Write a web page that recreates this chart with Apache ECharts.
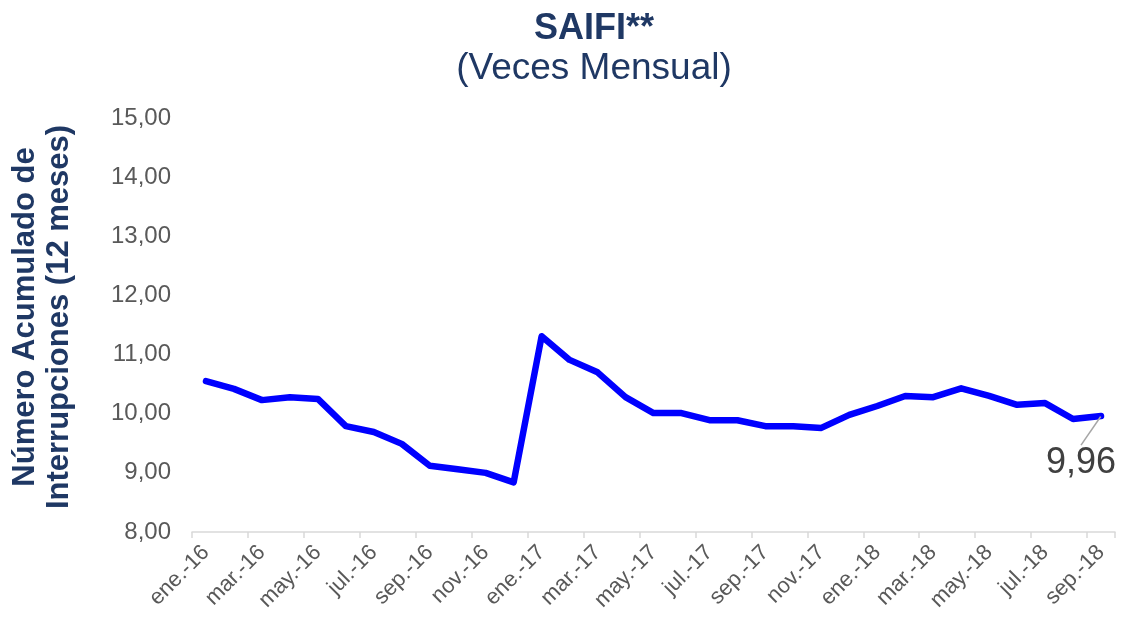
<!DOCTYPE html>
<html>
<head>
<meta charset="utf-8">
<script src="https://cdn.jsdelivr.net/npm/echarts@6/dist/echarts.min.js"></script>
<style>
html,body{margin:0;padding:0;background:#fff;}
#chart{width:1122px;height:621px;}
</style>
</head>
<body>
<div id="chart"></div>
<script>
const months = ['ene.','feb.','mar.','abr.','may.','jun.','jul.','ago.','sep.','oct.','nov.','dic.'];
const categories = [];
['16','17','18'].forEach(function(y){ months.forEach(function(m){ categories.push(m + '-' + y); }); });
categories.length = 33; // ene.-16 .. sep.-18

const saifi = [10.55, 10.42, 10.23, 10.28, 10.25, 9.79, 9.69, 9.49, 9.12, 9.06, 9.00, 8.84,
               11.31, 10.91, 10.70, 10.28, 10.01, 10.01, 9.89, 9.89, 9.79, 9.79, 9.76, 9.98,
               10.13, 10.30, 10.28, 10.43, 10.30, 10.15, 10.18, 9.91, 9.96];

const titleText = 'SAIFI**';
const subtitleText = '(Veces Mensual)';
const yName = 'Número Acumulado de\nInterrupciones (12 meses)';

const fmt = function(v){ return Number(v).toFixed(2).replace('.', ','); };

const chart = echarts.init(document.getElementById('chart'));
const lastIdx = saifi.length - 1;

chart.setOption({
  animation: false,
  textStyle: { fontFamily: 'Liberation Sans, Arial, sans-serif' },
  title: {
    text: titleText,
    subtext: subtitleText,
    left: 589,
    textAlign: 'center',
    top: 6,
    itemGap: 3,
    textStyle: { fontSize: 36, fontWeight: 'bold', color: '#1F3864', fontFamily: 'Liberation Sans' },
    subtextStyle: { fontSize: 37, color: '#1F3864', fontFamily: 'Liberation Sans' }
  },
  grid: { left: 190, right: 7, top: 118, bottom: 89 },
  xAxis: {
    type: 'category',
    data: categories,
    boundaryGap: true,
    axisLine: { lineStyle: { color: '#d9d9d9', width: 1.5 } },
    axisTick: { show: true, interval: 1, length: 6, lineStyle: { color: '#d9d9d9', width: 1.5 } },
    axisLabel: { interval: 1, rotate: 45, color: '#595959', fontSize: 22, margin: 17, fontFamily: 'Liberation Sans' }
  },
  yAxis: {
    type: 'value',
    min: 8, max: 15, interval: 1,
    name: yName,
    nameLocation: 'middle',
    nameRotate: 90,
    nameGap: 116,
    nameTextStyle: { fontSize: 31, fontWeight: 'bold', color: '#1F3864', lineHeight: 34,
                     padding: [0, 0, 0, 16], fontFamily: 'Liberation Sans' },
    axisLine: { show: false },
    axisTick: { show: false },
    splitLine: { show: false },
    axisLabel: { color: '#595959', fontSize: 24, margin: 21, formatter: fmt, fontFamily: 'Liberation Sans' }
  },
  series: [{
    type: 'line',
    data: saifi.map(function(v, i){
      if (i === lastIdx) {
        return {
          value: v,
          label: { show: true, position: 'inside', formatter: function(p){ return fmt(p.value); },
                   fontSize: 36, color: '#404040', fontFamily: 'Liberation Sans' },
          labelLine: { show: true, lineStyle: { color: '#a6a6a6', width: 1.5 } }
        };
      }
      return v;
    }),
    showSymbol: true,
    symbol: 'circle',
    symbolSize: 1,
    lineStyle: { color: '#0000FF', width: 6.5, cap: 'round', join: 'round' },
    itemStyle: { color: '#0000FF' },
    labelLayout: function(params){
      if (params.dataIndex === lastIdx) {
        return { dx: -20, dy: 47 };
      }
      return {};
    }
  }]
});
</script>
</body>
</html>
